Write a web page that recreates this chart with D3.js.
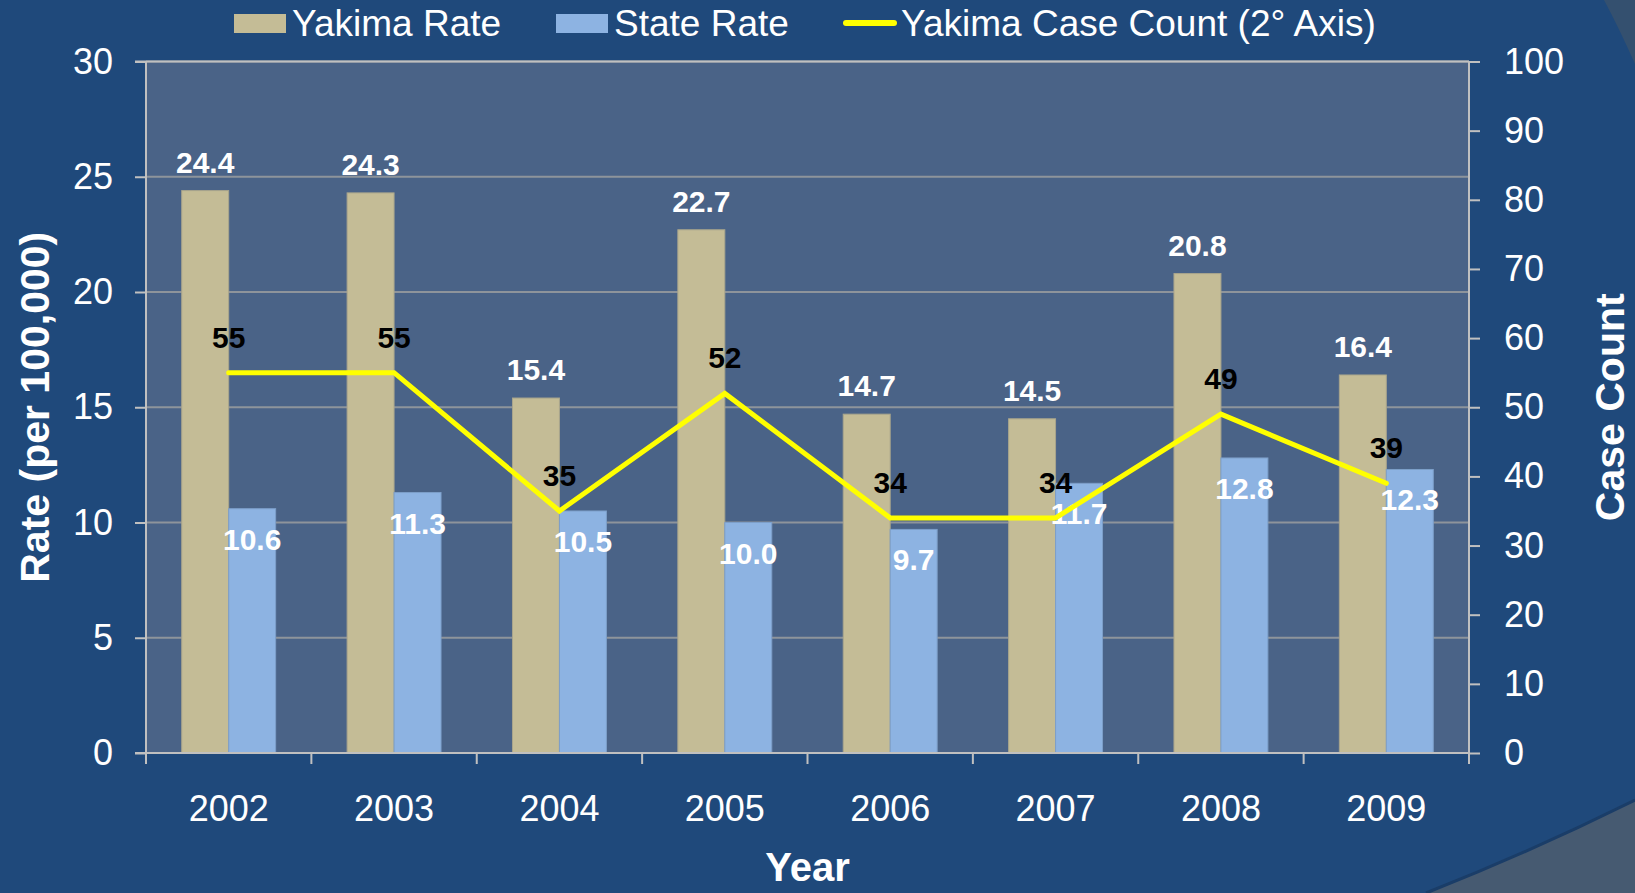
<!DOCTYPE html>
<html>
<head>
<meta charset="utf-8">
<script src="https://cdn.jsdelivr.net/npm/d3@7"></script>
<style>
  html, body { margin: 0; padding: 0; background: #1f497b; }
  svg { display: block; font-family: "Liberation Sans", Arial, sans-serif; }
</style>
</head>
<body>
<div id="chart"></div>
<script>
const years = ["2002", "2003", "2004", "2005", "2006", "2007", "2008", "2009"];
const yakimaRate = [24.4, 24.3, 15.4, 22.7, 14.7, 14.5, 20.8, 16.4];
const stateRate = [10.6, 11.3, 10.5, 10.0, 9.7, 11.7, 12.8, 12.3];
const caseCount = [55, 55, 35, 52, 34, 34, 49, 39];
const rateTicks = [0, 5, 10, 15, 20, 25, 30];
const countTicks = [0, 10, 20, 30, 40, 50, 60, 70, 80, 90, 100];
const seriesNames = ["Yakima Rate", "State Rate", "Yakima Case Count (2° Axis)"];

const width = 1635;
const height = 893;
const margin = {top: 61.5, right: 166, bottom: 140, left: 146};
const plotW = width - margin.left - margin.right;
const plotH = height - margin.top - margin.bottom;

const colors = {yakima: "#c4bc96", state: "#8db3e2", line: "#ffff00"};

const svg = d3.select("#chart")
  .append("svg")
  .attr("width", width)
  .attr("height", height);

// background decoration (bottom right swoosh, top right corner)
svg.append("path")
  .attr("d", `M1426,${height} Q1530,852 ${width},800 L${width},${height} Z`)
  .attr("fill", "#465a71");
svg.append("path")
  .attr("d", `M1426,${height} Q1530,852 ${width},800`)
  .attr("fill", "none")
  .attr("stroke", "#1a3d68")
  .attr("stroke-width", 3);
svg.append("path")
  .attr("d", `M1604,0 Q1620,30 ${width},64 L${width},0 Z`)
  .attr("fill", "#34506f");

const g = svg.append("g")
  .attr("transform", `translate(${margin.left},${margin.top})`);

const x0 = d3.scaleBand()
  .domain(years)
  .range([0, plotW]);

const x1 = d3.scaleBand()
  .domain(["yakima", "state"])
  .range([x0.bandwidth() * 0.216, x0.bandwidth() * 0.784]);

const yRate = d3.scaleLinear().domain([0, 30]).range([plotH, 0]);
const yCount = d3.scaleLinear().domain([0, 100]).range([plotH, 0]);

// plot area
g.append("rect")
  .attr("width", plotW)
  .attr("height", plotH)
  .attr("fill", "#4a6387");

// gridlines
g.selectAll(".grid")
  .data(rateTicks.filter(d => d > 0))
  .enter()
  .append("line")
  .attr("x1", 0)
  .attr("x2", plotW)
  .attr("y1", d => yRate(d))
  .attr("y2", d => yRate(d))
  .attr("stroke", "#8e949b")
  .attr("stroke-width", 2);

// bars
const data = years.map((y, i) => ({year: y, yakima: yakimaRate[i], state: stateRate[i], count: caseCount[i]}));

const groups = g.selectAll(".grp")
  .data(data)
  .enter()
  .append("g")
  .attr("transform", d => `translate(${x0(d.year)},0)`);

groups.append("rect")
  .attr("x", x1("yakima"))
  .attr("y", d => yRate(d.yakima))
  .attr("width", x1.bandwidth())
  .attr("height", d => plotH - yRate(d.yakima))
  .attr("fill", colors.yakima)
  .attr("stroke", "#a9a58c")
  .attr("stroke-width", 1);

groups.append("rect")
  .attr("x", x1("state"))
  .attr("y", d => yRate(d.state))
  .attr("width", x1.bandwidth())
  .attr("height", d => plotH - yRate(d.state))
  .attr("fill", colors.state)
  .attr("stroke", "#7d9fc9")
  .attr("stroke-width", 1);

// axes
const axisColor = "#c0c0c0";

const leftAxis = g.append("g")
  .call(d3.axisLeft(yRate).tickValues(rateTicks).tickSize(11).tickPadding(22));
const rightAxis = g.append("g")
  .attr("transform", `translate(${plotW},0)`)
  .call(d3.axisRight(yCount).tickValues(countTicks).tickSize(11).tickPadding(24));
const bottomAxis = g.append("g")
  .attr("transform", `translate(0,${plotH})`)
  .call(d3.axisBottom(x0).tickSize(0).tickPadding(42));

// boundary ticks between categories
g.selectAll(".xtick")
  .data(d3.range(years.length + 1))
  .enter()
  .append("line")
  .attr("x1", i => i * x0.step())
  .attr("x2", i => i * x0.step())
  .attr("y1", plotH)
  .attr("y2", plotH + 11)
  .attr("stroke", axisColor)
  .attr("stroke-width", 2);

[leftAxis, rightAxis, bottomAxis].forEach(a => {
  a.selectAll("path, line").attr("stroke", axisColor).attr("stroke-width", 2);
  a.selectAll("text")
    .attr("fill", "#ffffff")
    .style("font-size", "36px")
    .style("font-family", "'Liberation Sans', Arial, sans-serif");
});
leftAxis.select(".domain").attr("d", `M0,${plotH}V0`);
rightAxis.select(".domain").attr("d", `M0,${plotH}V0`);
bottomAxis.select(".domain").attr("d", `M-11,0H${plotW}`);

// top border of plot
g.append("line")
  .attr("x1", -11).attr("x2", plotW)
  .attr("y1", 0).attr("y2", 0)
  .attr("stroke", axisColor)
  .attr("stroke-width", 2);

// case count line
const line = d3.line()
  .x(d => x0(d.year) + x0.bandwidth() / 2)
  .y(d => yCount(d.count));

g.append("path")
  .datum(data)
  .attr("d", line)
  .attr("fill", "none")
  .attr("stroke", colors.line)
  .attr("stroke-width", 5)
  .attr("stroke-linejoin", "miter")
  .attr("stroke-linecap", "round");

// value labels
groups.append("text")
  .attr("x", x1("yakima") + x1.bandwidth() / 2)
  .attr("y", d => yRate(d.yakima) - 18)
  .attr("text-anchor", "middle")
  .attr("fill", "#ffffff")
  .style("font-size", "30px")
  .style("font-weight", "bold")
  .text(d => d.yakima.toFixed(1));

groups.append("text")
  .attr("x", x1("state") + x1.bandwidth() / 2)
  .attr("y", d => yRate(d.state) + 41)
  .attr("text-anchor", "middle")
  .attr("fill", "#ffffff")
  .style("font-size", "30px")
  .style("font-weight", "bold")
  .text(d => d.state.toFixed(1));

groups.append("text")
  .attr("x", x0.bandwidth() / 2)
  .attr("y", d => yCount(d.count) - 25)
  .attr("text-anchor", "middle")
  .attr("fill", "#000000")
  .style("font-size", "30px")
  .style("font-weight", "bold")
  .text(d => d.count);

// axis titles
svg.append("text")
  .attr("transform", `translate(49,${margin.top + plotH / 2}) rotate(-90)`)
  .attr("text-anchor", "middle")
  .attr("fill", "#ffffff")
  .style("font-size", "41px")
  .style("font-weight", "bold")
  .text("Rate (per 100,000)");

svg.append("text")
  .attr("transform", `translate(1624,${margin.top + plotH / 2}) rotate(-90)`)
  .attr("text-anchor", "middle")
  .attr("fill", "#ffffff")
  .style("font-size", "41px")
  .style("font-weight", "bold")
  .text("Case Count");

svg.append("text")
  .attr("x", margin.left + plotW / 2)
  .attr("y", 881)
  .attr("text-anchor", "middle")
  .attr("fill", "#ffffff")
  .style("font-size", "40px")
  .style("font-weight", "bold")
  .text("Year");

// legend
const legendX = [234, 556, 843];
const legend = svg.append("g");

legend.append("rect")
  .attr("x", legendX[0]).attr("y", 14)
  .attr("width", 52).attr("height", 19)
  .attr("fill", colors.yakima);
legend.append("rect")
  .attr("x", legendX[1]).attr("y", 14)
  .attr("width", 52).attr("height", 19)
  .attr("fill", colors.state);
legend.append("line")
  .attr("x1", legendX[2] + 3).attr("x2", legendX[2] + 51)
  .attr("y1", 23).attr("y2", 23)
  .attr("stroke", colors.line)
  .attr("stroke-width", 6)
  .attr("stroke-linecap", "round");

legend.selectAll(".ltext")
  .data(seriesNames)
  .enter()
  .append("text")
  .attr("x", (d, i) => legendX[i] + 58)
  .attr("y", 36)
  .attr("fill", "#ffffff")
  .style("font-size", "37px")
  .text(d => d);
</script>
</body>
</html>
